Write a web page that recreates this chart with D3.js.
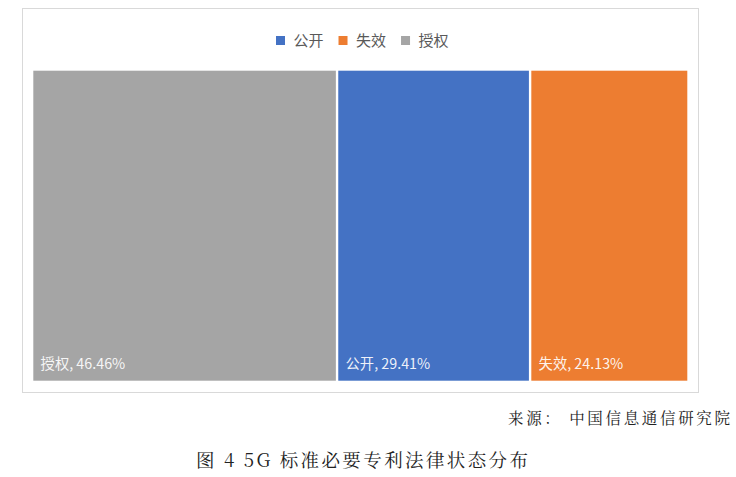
<!DOCTYPE html>
<html><head><meta charset="utf-8">
<script src="https://cdn.jsdelivr.net/npm/d3@7"></script>
<style>
html,body{margin:0;padding:0;background:#fff;}
svg{display:block;}
</style></head>
<body>
<svg id="chart" width="736" height="477"></svg>
<script>
const categories = ["公开", "失效", "授权"];
const values = [29.41, 24.13, 46.46];
const colors = ["#4472C4", "#ED7D31", "#A5A5A5"];
const sourceText = "来源： 中国信息通信研究院";
const captionText = "图 4 5G 标准必要专利法律状态分布";

const svg = d3.select("#chart");
const cjk = "'Noto Sans CJK SC','Noto Sans',sans-serif";
const serif = "'Noto Serif CJK SC','Liberation Serif','DejaVu Serif',serif";

// frame
svg.append("rect").attr("x", 22.5).attr("y", 8.5).attr("width", 676).attr("height", 384)
  .attr("fill", "#fff").attr("stroke", "#d9d9d9").attr("stroke-width", 1);

const color = d3.scaleOrdinal().domain(categories).range(colors);

// treemap
const area = {x: 33.3, y: 70.7, w: 654, h: 310};
const root = d3.hierarchy({children: categories.map((c, i) => ({name: c, value: values[i]}))})
  .sum(d => d.value || 0)
  .sort((a, b) => b.value - a.value);
d3.treemap().tile(d3.treemapDice).size([area.w, area.h]).paddingInner(2.4)(root);

const g = svg.append("g").attr("transform", `translate(${area.x},${area.y})`);
const leaves = g.selectAll("g.leaf").data(root.leaves()).join("g").attr("class", "leaf");
leaves.append("rect")
  .attr("x", d => d.x0).attr("y", d => d.y0)
  .attr("width", d => d.x1 - d.x0).attr("height", d => d.y1 - d.y0)
  .attr("fill", d => color(d.data.name));
leaves.append("text")
  .attr("x", d => d.x0 + 7.3).attr("y", d => d.y1 - 11.5)
  .attr("font-family", cjk).attr("font-size", 14.3)
  .attr("fill", "#ffffff").attr("fill-opacity", 0.92)
  .text(d => `${d.data.name}, ${d.data.value.toFixed(2)}%`);

// legend
const legendItems = categories.map((c, i) => ({name: c}));
const legend = svg.append("g").attr("transform", "translate(276,36)");
let lx = 0;
legendItems.forEach(item => {
  const lg = legend.append("g").attr("transform", `translate(${lx},0)`);
  lg.append("rect").attr("x", 0).attr("y", 0).attr("width", 9).attr("height", 9)
    .attr("fill", color(item.name));
  const t = lg.append("text").attr("x", 17.5).attr("y", 10)
    .attr("font-family", cjk).attr("font-size", 15).attr("fill", "#595959")
    .text(item.name);
  lx += 17.5 + t.node().getComputedTextLength() + 15;
});

// source
svg.append("text").attr("x", 730).attr("y", 424).attr("text-anchor", "end")
  .attr("font-family", serif).attr("font-size", 15.5).attr("fill", "#222")
  .attr("textLength", 222).attr("lengthAdjust", "spacing")
  .text(sourceText);

// caption
svg.append("text").attr("x", 196).attr("y", 467)
  .attr("font-family", serif).attr("font-size", 18.5).attr("fill", "#222")
  .attr("textLength", 332).attr("lengthAdjust", "spacing")
  .text(captionText);
</script>
</body></html>
